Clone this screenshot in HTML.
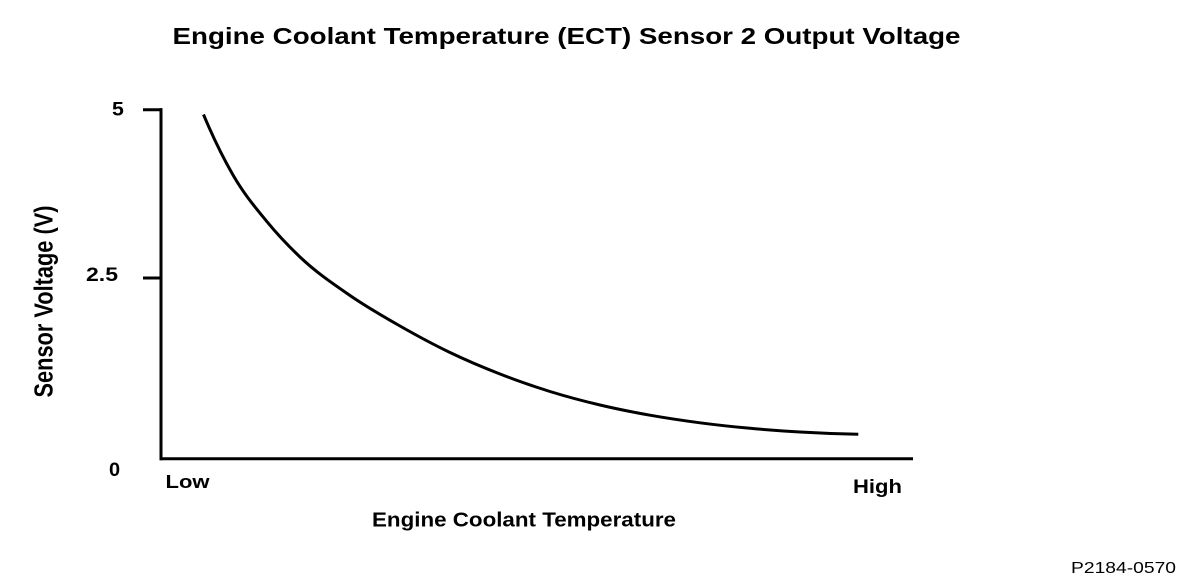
<!DOCTYPE html>
<html>
<head>
<meta charset="utf-8">
<style>
  html, body { margin: 0; padding: 0; background: #fff; }
  svg { display: block; }
  text { font-family: "Liberation Sans", Arial, sans-serif; fill: #000; }
  .b { font-weight: bold; }
</style>
</head>
<body>
<svg width="1200" height="586" viewBox="0 0 1200 586" xmlns="http://www.w3.org/2000/svg">
  <rect width="1200" height="586" fill="#fff"/>

  <!-- Title -->
  <text class="b" x="172.5" y="44" font-size="23" textLength="788" lengthAdjust="spacingAndGlyphs">Engine Coolant Temperature (ECT) Sensor 2 Output Voltage</text>

  <!-- Axes -->
  <g stroke="#000" stroke-width="3" fill="none" stroke-linecap="butt">
    <line x1="161" y1="108.3" x2="161" y2="460.3"/>
    <line x1="143" y1="109.7" x2="162.5" y2="109.7"/>
    <line x1="143" y1="278" x2="161" y2="278"/>
    <line x1="159.5" y1="458.8" x2="913" y2="458.8"/>
  </g>

  <!-- Curve -->
  <path fill="none" stroke="#000" stroke-width="3" stroke-linecap="butt"
    d="M203.5,114.5
       C213.33,138.1 223.17,157.93 233,175
       C244.33,194.67 255.67,207.87 267,221.7
       C278,235.12 289,246.54 300,257
       C316.67,272.85 333.33,284 350,295.5
       C366.67,307 383.33,316.5 400,326
       C416.67,335.5 433.33,344.5 450,352.5
       C466.67,360.5 483.33,367.5 500,374
       C516.67,380.5 533.33,386.33 550,391.5
       C566.67,396.67 583.33,401.05 600,405
       C616.67,408.95 633.33,412.23 650,415.2
       C666.67,418.17 683.33,420.62 700,422.8
       C716.67,424.98 733.33,426.77 750,428.3
       C766.67,429.83 783.33,431.03 800,432
       C819.43,433.13 838.87,433.91 858.3,434.3"/>

  <!-- Y tick labels -->
  <text class="b" font-size="19" transform="translate(112,115.5) scale(1.12,1)">5</text>
  <text class="b" x="86" y="281" font-size="19" textLength="32" lengthAdjust="spacingAndGlyphs">2.5</text>
  <text class="b" font-size="19" transform="translate(109,476) scale(1.05,1)">0</text>

  <!-- Y axis label -->
  <text class="b" font-size="20.5" transform="translate(52.5,397.5) scale(1.28,1) rotate(-90)" textLength="192" lengthAdjust="spacingAndGlyphs">Sensor Voltage (V)</text>

  <!-- X labels -->
  <text class="b" x="165.5" y="488" font-size="18.5" textLength="44" lengthAdjust="spacingAndGlyphs">Low</text>
  <text class="b" x="853" y="493" font-size="19.5" textLength="49" lengthAdjust="spacingAndGlyphs">High</text>
  <text class="b" x="372" y="526.5" font-size="20" textLength="304" lengthAdjust="spacingAndGlyphs">Engine Coolant Temperature</text>

  <!-- Figure code -->
  <text x="1071" y="573" font-size="16" textLength="105" lengthAdjust="spacingAndGlyphs">P2184-0570</text>
</svg>
</body>
</html>
